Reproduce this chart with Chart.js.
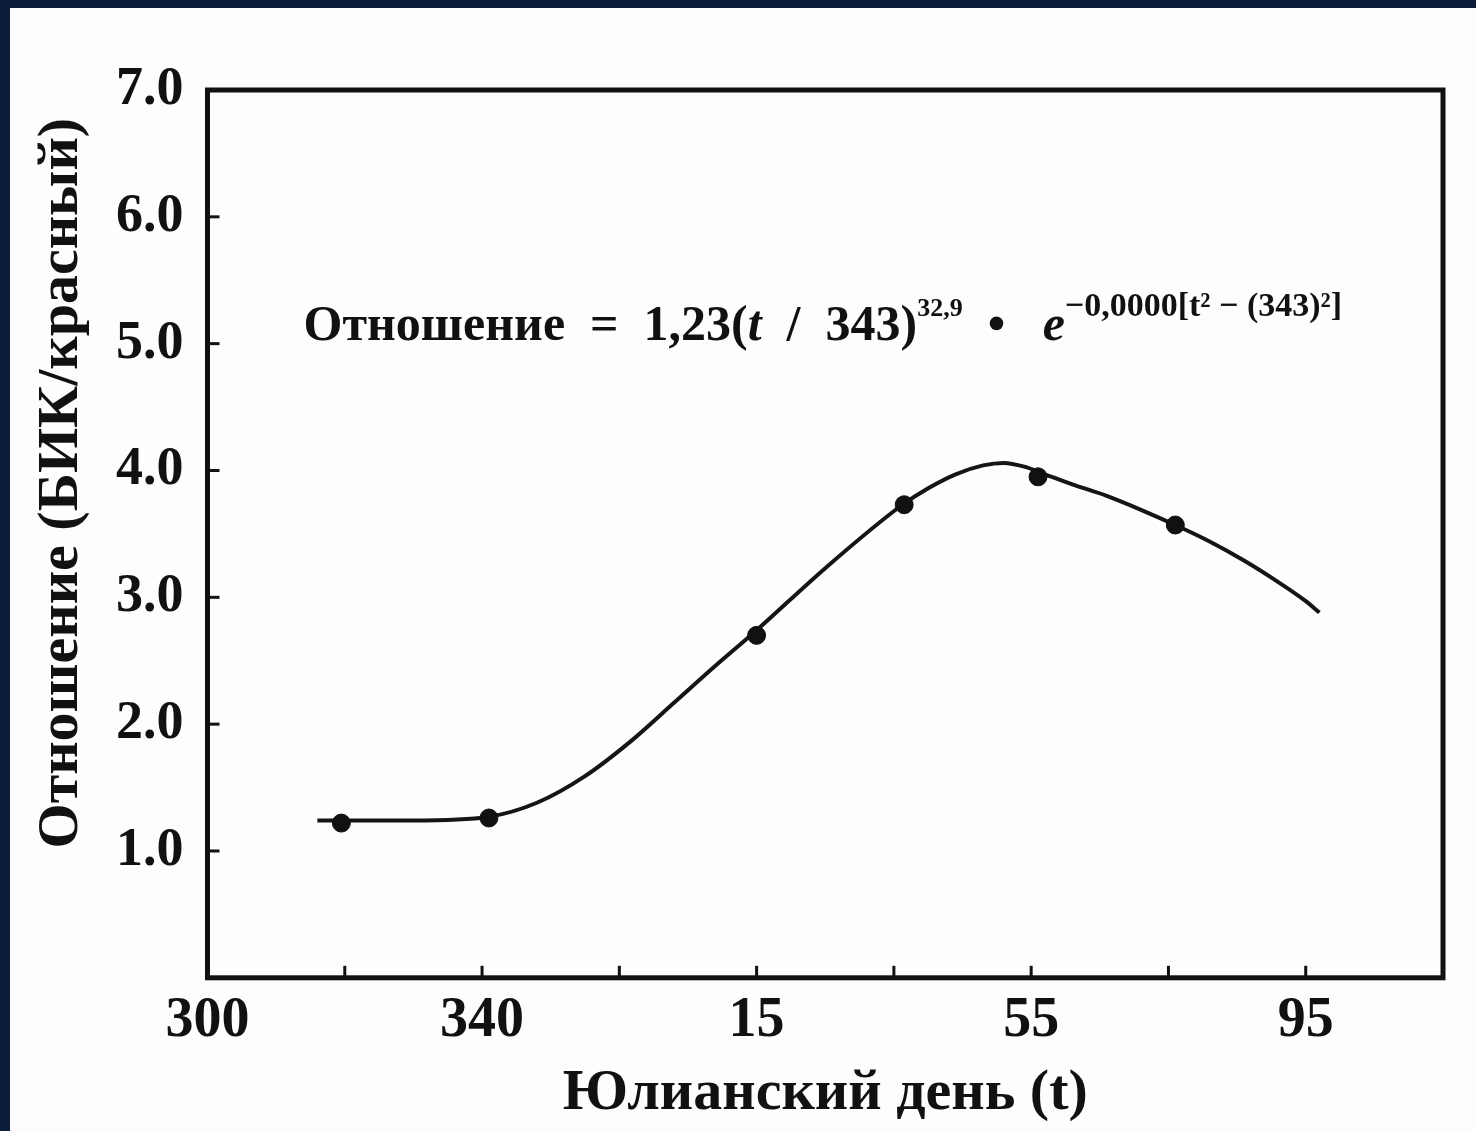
<!DOCTYPE html>
<html>
<head>
<meta charset="utf-8">
<script src="https://cdn.jsdelivr.net/npm/chart.js@4.4.0/dist/chart.umd.min.js"></script>
<style>
  html, body { margin: 0; padding: 0; background: #0b1d38; }
  #panel { position: absolute; left: 10px; top: 8px; width: 1466px; height: 1123px; background: #fdfdfd; }
</style>
</head>
<body>
<div id="panel"><canvas id="ratioChart" width="1466" height="1123"></canvas></div>
<script>
// measured points (continuous day count, 380 = day 15 of next year)
const days = [319.5, 341, 380, 401.5, 421, 441];
const ratios = [1.22, 1.26, 2.70, 3.73, 3.95, 3.57];

// fitted curve
const fitDays = [316, 330, 341, 348, 355, 362, 368, 374, 380, 390, 401, 405, 409, 413, 416, 419, 422, 426, 431, 436, 441, 446, 451, 456, 460, 462];
const fitRatios = [1.24, 1.24, 1.27, 1.38, 1.59, 1.88, 2.17, 2.46, 2.74, 3.23, 3.72, 3.86, 3.97, 4.04, 4.06, 4.03, 3.97, 3.89, 3.80, 3.69, 3.57, 3.44, 3.29, 3.12, 2.97, 2.88];

const xLabelDays = [300, 340, 380, 420, 460];
const yTickValues = [1, 2, 3, 4, 5, 6, 7];

const xTitle = 'Юлианский день (t)';
const yTitle = 'Отношение (БИК/красный)';

// equation anchor in data units
const eqDay = 314;
const eqRatio = 5.03;
// y title centre in data units
const yTitleRatio = 3.9;

const serif = "'Liberation Serif', 'Times New Roman', serif";

function dayLabel(v) {
  return v > 365 ? String(v - 365) : String(v);
}

// frame, inward tick marks, y title and the equation
const framePlugin = {
  id: 'frame',
  afterDraw(chart) {
    const ctx = chart.ctx;
    const a = chart.chartArea;
    const xs = chart.scales.x;
    const ys = chart.scales.y;
    ctx.save();
    ctx.strokeStyle = '#111';
    ctx.lineWidth = 5;
    ctx.strokeRect(a.left, a.top, a.right - a.left, a.bottom - a.top);

    ctx.lineWidth = 3;
    xs.ticks.forEach(t => {
      const px = xs.getPixelForValue(t.value);
      if (px <= a.left + 2 || px >= a.right - 2) return;
      ctx.beginPath();
      ctx.moveTo(px, a.bottom);
      ctx.lineTo(px, a.bottom - 12);
      ctx.stroke();
    });
    ys.ticks.forEach(t => {
      const py = ys.getPixelForValue(t.value);
      if (py <= a.top + 2 || py >= a.bottom - 2) return;
      ctx.beginPath();
      ctx.moveTo(a.left, py);
      ctx.lineTo(a.left + 12, py);
      ctx.stroke();
    });

    ctx.fillStyle = '#111';

    // rotated y title
    ctx.save();
    ctx.translate(a.left - 145, ys.getPixelForValue(yTitleRatio));
    ctx.rotate(-Math.PI / 2);
    ctx.font = 'bold 58px ' + serif;
    ctx.textAlign = 'center';
    ctx.textBaseline = 'middle';
    ctx.fillText(yTitle, 0, 0);
    ctx.restore();

    // equation text
    let x = xs.getPixelForValue(eqDay);
    const y = ys.getPixelForValue(eqRatio);
    ctx.textBaseline = 'alphabetic';
    ctx.textAlign = 'left';
    const parts = [
      { t: 'Отношение  =  1,23(', f: 'bold 50px ' + serif, dy: 0 },
      { t: 't', f: 'italic bold 50px ' + serif, dy: 0 },
      { t: '  /  343)', f: 'bold 50px ' + serif, dy: 0 },
      { t: '32,9', f: 'bold 26px ' + serif, dy: -24 },
      { t: '  •   ', f: 'bold 50px ' + serif, dy: 0 },
      { t: 'e', f: 'italic bold 50px ' + serif, dy: 0 },
      { t: '−0,0000[t² − (343)²]', f: 'bold 34px ' + serif, dy: -24 }
    ];
    parts.forEach(p => {
      ctx.font = p.f;
      ctx.fillText(p.t, x, y + p.dy);
      x += ctx.measureText(p.t).width;
    });
    ctx.restore();
  }
};

const chart = new Chart(document.getElementById('ratioChart'), {
  type: 'scatter',
  data: {
    datasets: [{
      label: 'Данные',
      data: days.map((d, i) => ({ x: d, y: ratios[i] })),
      showLine: false,
      pointRadius: 9,
      pointBackgroundColor: '#111',
      pointBorderColor: '#111',
      order: 0
    }, {
      label: 'Модель',
      data: fitDays.map((d, i) => ({ x: d, y: fitRatios[i] })),
      showLine: true,
      cubicInterpolationMode: 'monotone',
      borderColor: '#151515',
      borderWidth: 4,
      pointRadius: 0,
      order: 1
    }]
  },
  options: {
    responsive: false,
    animation: false,
    layout: { padding: { left: 82, right: 33, top: 82, bottom: 0 } },
    plugins: {
      legend: { display: false },
      tooltip: { enabled: false }
    },
    scales: {
      x: {
        type: 'linear',
        min: 300,
        max: 480,
        border: { display: false },
        grid: { display: false, drawTicks: false },
        ticks: {
          stepSize: 20,
          autoSkip: false,
          maxRotation: 0,
          padding: 10,
          color: '#111',
          font: { family: serif, size: 56, weight: 'bold' },
          callback: v => xLabelDays.includes(v) ? dayLabel(v) : ''
        },
        title: {
          display: true,
          text: xTitle,
          color: '#111',
          font: { family: serif, size: 58, weight: 'bold', lineHeight: 1.0 },
          padding: { top: 0, bottom: 8 }
        }
      },
      y: {
        min: 0,
        max: 7,
        border: { display: false },
        grid: { display: false, drawTicks: false },
        afterBuildTicks: s => { s.ticks = [0].concat(yTickValues).map(v => ({ value: v })); },
        ticks: {
          padding: 24,
          color: '#111',
          font: { family: serif, size: 54, weight: 'bold' },
          callback: v => v === 0 ? '' : v.toFixed(1)
        },
        title: { display: false }
      }
    }
  },
  plugins: [framePlugin]
});
</script>
</body>
</html>
